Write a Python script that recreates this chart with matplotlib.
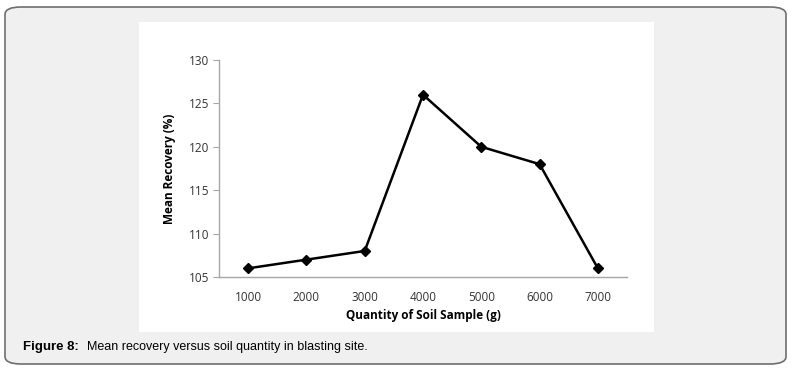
import matplotlib.pyplot as plt
from matplotlib.patches import FancyBboxPatch, Rectangle

quantity = ["1000", "2000", "3000", "4000", "5000", "6000", "7000"]
recovery = [106, 107, 108, 126, 120, 118, 106]
y_ticks = [105, 110, 115, 120, 125, 130]

W, H = 803, 369
fig = plt.figure(figsize=(W / 100, H / 100), dpi=100)
fig.patch.set_facecolor("white")

# outer rounded frame
frame = FancyBboxPatch((5 / W, 5 / H), 781 / W, 357 / H,
                       boxstyle="round,pad=0,rounding_size=0.02",
                       transform=fig.transFigure, fc="#f0f0f0", ec="#6e6e6e", lw=1.2,
                       zorder=-10)
fig.patches.append(frame)
# white chart panel
fig.patches.append(Rectangle((139 / W, 1 - 332 / H), 515 / W, 310 / H,
                             transform=fig.transFigure, fc="white", ec="none", zorder=-9))

ax = fig.add_axes([219 / W, 1 - 277 / H, 408 / W, 217 / H])
ax.set_facecolor("none")
x = range(len(quantity))
ax.plot(x, recovery, color="black", lw=1.8, marker="D", ms=5.5, mfc="black", mec="black",
        clip_on=False)
ax.set_xlim(-0.5, len(quantity) - 0.5)
ax.set_ylim(105, 130)
ax.set_yticks(y_ticks)
ax.set_xticks(list(x))
ax.set_xticklabels(quantity)
for s in ["top", "right"]:
    ax.spines[s].set_visible(False)
for s in ["left", "bottom"]:
    ax.spines[s].set_color("#a6a6a6")
    ax.spines[s].set_linewidth(1)
ax.tick_params(axis="y", length=4, color="#a6a6a6", labelsize=8.5, pad=3, labelcolor="#333333")
ax.tick_params(axis="x", length=0, labelsize=8.5, pad=10, labelcolor="#333333")
for lbl in ax.get_xticklabels() + ax.get_yticklabels():
    lbl.set_family("Open Sans")
ax.set_ylabel("Mean Recovery (%)", family="Open Sans", fontsize=8.5, fontweight="bold", labelpad=9)
ax.set_xlabel("Quantity of Soil Sample (g)", family="Open Sans", fontsize=8.5, fontweight="bold", labelpad=4)

fig.text(23 / W, 1 - 347 / H, "Figure 8:", family="Liberation Sans", fontsize=9.5,
         fontweight="bold", va="center", ha="left")
fig.text(87 / W, 1 - 347 / H, "Mean recovery versus soil quantity in blasting site.",
         family="Liberation Sans", fontsize=9, va="center", ha="left")

fig.savefig("out.png", dpi=100)
